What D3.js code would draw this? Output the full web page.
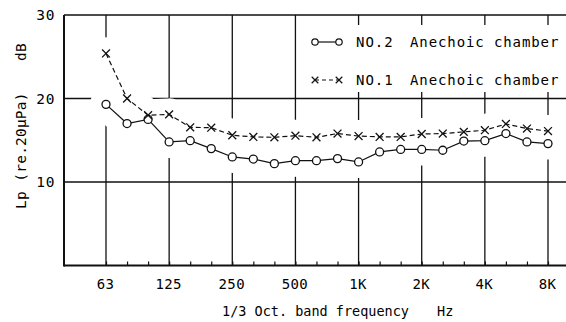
<!DOCTYPE html>
<html><head><meta charset="utf-8">
<script src="https://cdn.jsdelivr.net/npm/d3@7/dist/d3.min.js"></script>
<style>body{margin:0;background:#fff}text{font-family:"DejaVu Sans Mono",monospace;fill:#000}</style>
</head><body><svg id="c" width="566" height="322"></svg>
<script>
const categories=["63","80","100","125","160","200","250","315","400","500","630","800","1K","1.25K","1.6K","2K","2.5K","3.15K","4K","5K","6.3K","8K"];
const octaveLabels=["63","125","250","500","1K","2K","4K","8K"];
const no2=[19.3,17.0,17.5,14.8,14.95,14.0,13.0,12.75,12.2,12.55,12.55,12.8,12.4,13.6,13.9,13.9,13.8,14.9,14.95,15.8,14.8,14.6];
const no1=[25.4,20.0,18.0,18.1,16.55,16.5,15.6,15.4,15.35,15.55,15.35,15.8,15.5,15.4,15.4,15.75,15.8,16.0,16.2,16.95,16.4,16.1];
const yTicks=[10,20,30];
const legendNames=["NO.2","NO.1"];
const legendText="Anechoic chamber";

const svg=d3.select("#c");
const L=64,T=15,B=265.5,R=566;
const x=d3.scalePoint().domain(categories).range([106,548]);
const y=d3.scaleLinear().domain([0,30]).range([B,T]);

// grid
const g=svg.append("g");
g.selectAll(".vg").data(octaveLabels).join("line")
 .attr("x1",d=>x(d)).attr("x2",d=>x(d)).attr("y1",T).attr("y2",B)
 .attr("stroke","#111").attr("stroke-width",1.3);
g.selectAll(".hg").data(yTicks.slice(0,2)).join("line")
 .attr("x1",L).attr("x2",R).attr("y1",d=>y(d)).attr("y2",d=>y(d))
 .attr("stroke","#111").attr("stroke-width",1.5);

// legend background (covers grid)
svg.append("rect").attr("x",302).attr("y",25).attr("width",270).attr("height",67).attr("fill","#fff");

// halos around curves (grid interrupted near curves)
const line=d3.line().x((d,i)=>x(categories[i])).y(d=>y(d));
[no1,no2].forEach(s=>svg.append("path").datum(s).attr("d",line)
 .attr("fill","none").attr("stroke","#fff").attr("stroke-width",32)
 .attr("stroke-linecap","round").attr("stroke-linejoin","round"));

// frame
svg.append("line").attr("x1",L).attr("x2",R).attr("y1",T).attr("y2",T).attr("stroke","#111").attr("stroke-width",1.5);
svg.append("line").attr("x1",L).attr("x2",L).attr("y1",T).attr("y2",B+1).attr("stroke","#111").attr("stroke-width",2);

// bottom axis with minor ticks
const ax=svg.append("g").attr("transform",`translate(0,${B})`)
 .call(d3.axisBottom(x).tickValues(categories).tickSize(-4).tickFormat(""));
ax.select(".domain").remove();
ax.selectAll("line").attr("stroke","#111").attr("stroke-width",1.2);
svg.append("line").attr("x1",L).attr("x2",R).attr("y1",B).attr("y2",B).attr("stroke","#111").attr("stroke-width",2.2);
const axl=svg.append("g").attr("transform",`translate(0,${B})`)
 .call(d3.axisBottom(x).tickValues(octaveLabels).tickSize(0).tickPadding(14));
axl.select(".domain").remove();
axl.selectAll("text").attr("font-size",14).attr("letter-spacing",0.4)
 .attr("font-family","DejaVu Sans Mono").attr("fill","#000").attr("dx",-1);

// y tick labels
const ayl=svg.append("g").attr("transform",`translate(${L},0)`)
 .call(d3.axisLeft(y).tickValues(yTicks).tickSize(0).tickPadding(9).tickFormat(d3.format("d")));
ayl.select(".domain").remove();
ayl.selectAll("text").attr("font-size",14.5).attr("letter-spacing",0.6)
 .attr("font-family","DejaVu Sans Mono").attr("fill","#000");

// data lines
svg.append("path").datum(no2).attr("d",line).attr("fill","none").attr("stroke","#111").attr("stroke-width",1.2);
svg.append("path").datum(no1).attr("d",line).attr("fill","none").attr("stroke","#111").attr("stroke-width",1.2).attr("stroke-dasharray","5,3");
svg.selectAll(".m2").data(no2).join("circle")
 .attr("cx",(d,i)=>x(categories[i])).attr("cy",d=>y(d)).attr("r",4)
 .attr("fill","#fff").attr("stroke","#111").attr("stroke-width",1.3);
const cross=d3.symbol().type(d3.symbolX).size(42);
svg.selectAll(".m1").data(no1).join("path")
 .attr("transform",(d,i)=>`translate(${x(categories[i])},${y(d)})`)
 .attr("d",cross).attr("fill","none").attr("stroke","#111").attr("stroke-width",1.3);

// legend
const ly=[42,80];
svg.append("line").attr("x1",315).attr("x2",339).attr("y1",ly[0]).attr("y2",ly[0]).attr("stroke","#111").attr("stroke-width",1.2);
[315,339].forEach(cx=>svg.append("circle").attr("cx",cx).attr("cy",ly[0]).attr("r",3.2).attr("fill","#fff").attr("stroke","#111").attr("stroke-width",1.2));
svg.append("line").attr("x1",315).attr("x2",339).attr("y1",ly[1]).attr("y2",ly[1]).attr("stroke","#111").attr("stroke-width",1.2).attr("stroke-dasharray","4,3");
[315,339].forEach(cx=>svg.append("path").attr("transform",`translate(${cx},${ly[1]})`).attr("d",d3.symbol().type(d3.symbolX).size(30)).attr("fill","none").attr("stroke","#111").attr("stroke-width",1.2));
legendNames.forEach((n,i)=>{
 svg.append("text").attr("x",356).attr("y",ly[i]+5).attr("font-size",14).attr("letter-spacing",1.0).text(n);
 svg.append("text").attr("x",410).attr("y",ly[i]+5).attr("font-size",14).attr("letter-spacing",0.9).text(legendText);
});

// axis titles
svg.append("text").attr("x",222).attr("y",316).attr("font-size",13.5).attr("letter-spacing",0).text("1/3 Oct. band frequency");
svg.append("text").attr("x",437).attr("y",316).attr("font-size",13.5).text("Hz");
[["dB",52],["(re.20\u03bcPa)",137],["Lp",200]].forEach(([t,cy])=>
 svg.append("text").attr("transform",`translate(26,${cy}) rotate(-90)`).attr("text-anchor","middle")
  .attr("font-size",14.5).attr("letter-spacing",0.2).text(t));
</script></body></html>
